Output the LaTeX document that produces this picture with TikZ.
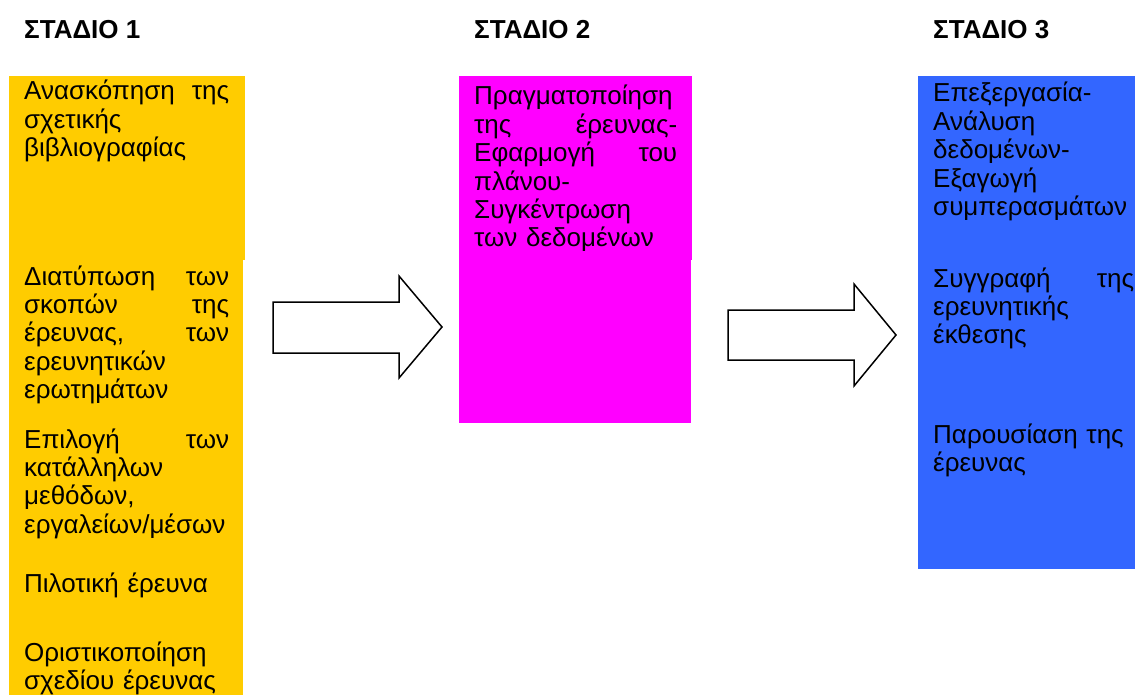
\documentclass[tikz,border=0pt]{standalone}
\usepackage{fontspec}
\setmainfont{Liberation Sans}
\definecolor{stageyellow}{HTML}{FFCC00}
\definecolor{stagepink}{HTML}{FF00FF}
\definecolor{stageblue}{HTML}{3366FF}
\tikzset{
  stagetitle/.style={anchor=base west, inner sep=0pt, font=\fontsize{26}{30}\selectfont\bfseries},
  stagetext/.style={anchor=base west, inner sep=0pt, text width=#1, align=left,
    font=\fontsize{26}{28.4}\selectfont},
  blockarrow/.style={draw=black, line width=1.5pt, fill=white, line join=miter}
}

\begin{document}
\begin{tikzpicture}[x=1pt, y=-1pt]
\useasboundingbox (0,0) rectangle (1135,695);
% coloured columns
\fill[stageyellow] (9,76) rectangle (245,260);
\fill[stageyellow] (9,260) rectangle (243,695);
\fill[stagepink] (459,76) rectangle (692,260);
\fill[stagepink] (459,260) rectangle (691,423);
\fill[stageblue] (918,76) rectangle (1135,569);

% titles
\node[stagetitle] (t1) at (24,39) {ΣΤΑΔΙΟ 1};
\node[stagetitle] (t2) at (474,39) {ΣΤΑΔΙΟ 2};
\node[stagetitle] (t3) at (933,39) {ΣΤΑΔΙΟ 3};

% stage 1
\node[stagetext=205pt] (review) at (24,100) {Ανασκόπηση \hfill της\\ σχετικής\\ βιβλιογραφίας};
\node[stagetext=205pt] (aims) at (24,285) {Διατύπωση \hfill των\\ σκοπών \hfill της\\ έρευνας, \hfill των\\ ερευνητικών\\ ερωτημάτων};
\node[stagetext=205pt] (methods) at (24,448) {Επιλογή \hfill των\\ κατάλληλων\\ μεθόδων,\\ εργαλείων/μέσων};
\node[stagetext=205pt] (pilot) at (24,592) {Πιλοτική έρευνα};
\node[stagetext=205pt] (design) at (24,661) {Οριστικοποίηση\\ σχεδίου έρευνας};

% stage 2
\node[stagetext=203pt] (conduct) at (474,105) {Πραγματοποίηση\\ της \hfill έρευνας-\\ Εφαρμογή \hfill του\\ πλάνου-\\ Συγκέντρωση\\ των δεδομένων};

% stage 3
\node[stagetext=201pt] (analysis) at (933,102) {Επεξεργασία-\\ Ανάλυση\\ δεδομένων-\\ Εξαγωγή\\ συμπερασμάτων};
\node[stagetext=201pt] (report) at (933,287) {Συγγραφή \hfill της\\ ερευνητικής\\ έκθεσης};
\node[stagetext=201pt] (present) at (933,443) {Παρουσίαση της\\ έρευνας};

% block arrows
\draw[blockarrow] (273,302) -- (399,302) -- (399,276) -- (442,327) -- (399,378) -- (399,353) -- (273,353) -- cycle;
\draw[blockarrow] (728,310) -- (854,310) -- (854,284) -- (896,335) -- (854,386) -- (854,360) -- (728,360) -- cycle;
\end{tikzpicture}
\end{document}
